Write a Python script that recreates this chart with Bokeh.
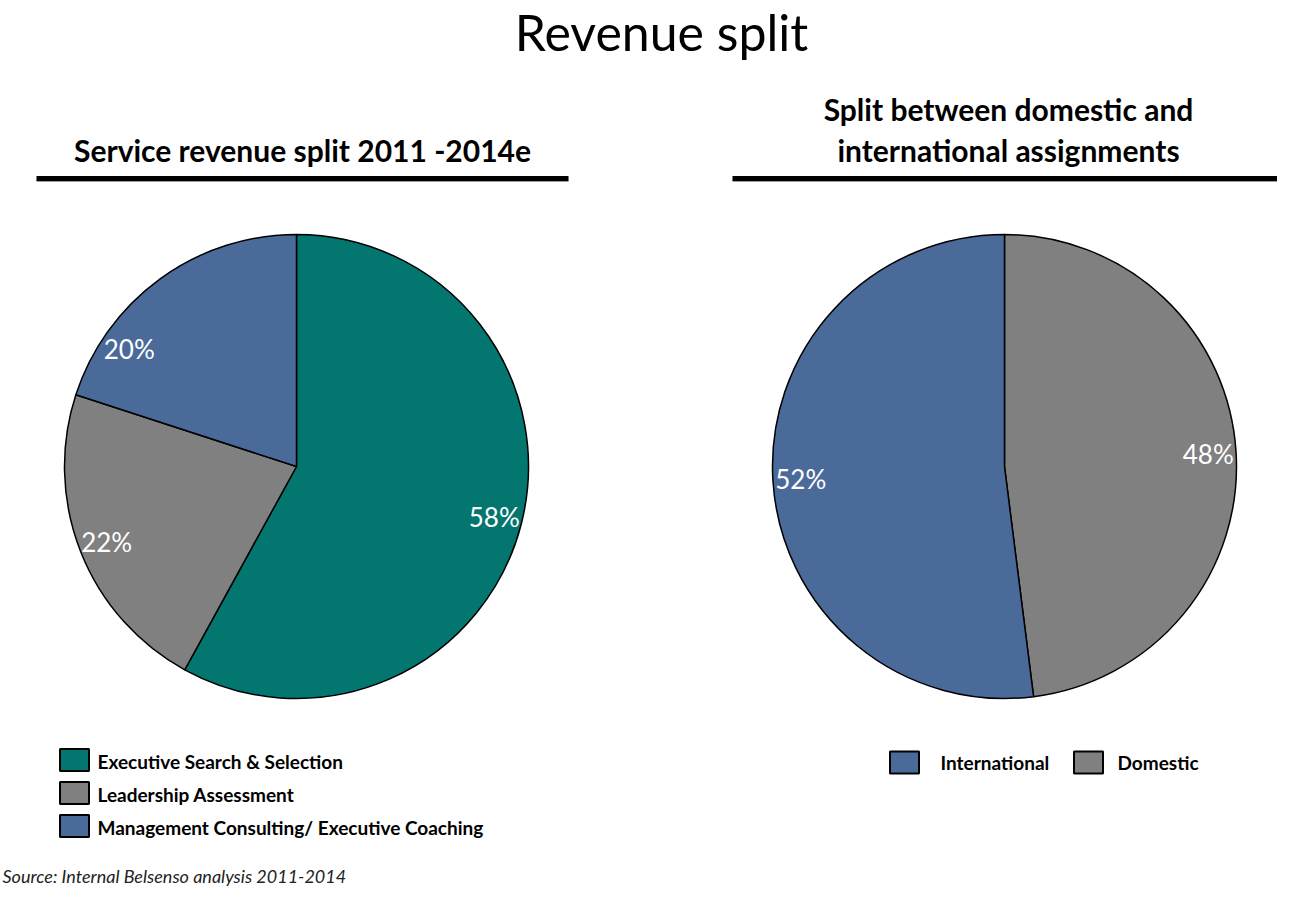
import math
from bokeh.plotting import figure
from bokeh.models import Range1d, ColumnDataSource
from bokeh.embed import file_html
from bokeh.resources import INLINE
from bokeh.core.properties import value

# ---------------- data ----------------
main_title = "Revenue split"
left_title = "Service revenue split 2011 -2014e"
right_title = ["Split between domestic and", "international assignments"]

service_categories = ["Executive Search & Selection", "Leadership Assessment",
                      "Management Consulting/  Executive Coaching"]
service_shares = [58, 22, 20]
service_colors = ["#03766F", "#808080", "#4A6A99"]

split_categories = ["Domestic", "International"]
split_shares = [48, 52]
split_colors = ["#808080", "#4A6A99"]
split_legend_order = ["International", "Domestic"]

source_note = "Source: Internal Belsenso analysis 2011-2014"

# ---------------- layout ----------------
W, H = 1277, 886
REF_H = 902
FONT = value("Lato")


def Y(ry):
    return REF_H - ry


p = figure(width=W, height=H, x_range=Range1d(0, W),
           y_range=Range1d(REF_H - H, REF_H),
           output_backend="svg", toolbar_location=None, min_border=0,
           x_axis_type=None, y_axis_type=None)
p.grid.visible = False
p.outline_line_color = None
p.background_fill_color = "white"


def draw_pie(cx, cy, r, shares, colors, nudges):
    total = float(sum(shares))
    starts, ends, lx, ly, txt = [], [], [], [], []
    cum = 0.0
    for s, nd in zip(shares, nudges):
        a0 = math.pi / 2 - 2 * math.pi * cum / total
        cum += s
        a1 = math.pi / 2 - 2 * math.pi * cum / total
        starts.append(a0)
        ends.append(a1)
        mid = (a0 + a1) / 2 + math.radians(nd)
        lx.append(cx + 0.88 * r * math.cos(mid))
        ly.append(cy + 0.88 * r * math.sin(mid))
        txt.append(f"{s}%")
    n = len(shares)
    src = ColumnDataSource(dict(x=[cx] * n, y=[cy] * n, start=starts, end=ends, color=colors))
    p.wedge(x="x", y="y", radius=r, start_angle="start", end_angle="end",
            direction="clock", fill_color="color", line_color="black",
            line_width=1.5, source=src)
    p.text(x=lx, y=ly, text=txt, text_font=FONT, text_font_size="26px",
           text_color="white", text_align="center", text_baseline="middle")


R = 232
draw_pie(296, Y(466), R, service_shares, service_colors, [0, 0, 19])
draw_pie(1004, Y(466), R, split_shares, split_colors, [0, 0])

# titles
p.text(x=[661], y=[Y(31)], text=[main_title], text_font=FONT, text_font_size="50px",
       text_color="black", text_align="center", text_baseline="middle")
p.text(x=[302], y=[Y(149)], text=[left_title], text_font=FONT, text_font_size="30px",
       text_font_style="bold", text_color="black", text_align="center", text_baseline="middle")
p.text(x=[1008, 1008], y=[Y(108), Y(149)], text=right_title, text_font=FONT,
       text_font_size="30px", text_font_style="bold", text_color="black",
       text_align="center", text_baseline="middle")

# underline bars
p.segment(x0=[36, 732], y0=[Y(180.5)] * 2, x1=[568, 1287], y1=[Y(180.5)] * 2,
          line_color="#a0a0a0", line_width=2)
p.segment(x0=[36, 732], y0=[Y(178)] * 2, x1=[568, 1287], y1=[Y(178)] * 2,
          line_color="black", line_width=5)

# left legend
rows = [759.5 + 33 * i for i in range(len(service_categories))]
p.rect(x=[74] * len(rows), y=[Y(r) for r in rows], width=29, height=22,
       fill_color=service_colors, line_color="black", line_width=2)
p.text(x=[97] * len(rows), y=[Y(r + 1.5) for r in rows], text=service_categories,
       text_font=FONT, text_font_size="19px", text_font_style="bold",
       text_color="black", text_align="left", text_baseline="middle")

# right legend
leg_colors = [split_colors[split_categories.index(c)] for c in split_legend_order]
p.rect(x=[904, 1088], y=[Y(762)] * 2, width=29, height=22,
       fill_color=leg_colors, line_color="black", line_width=2)
p.text(x=[940, 1117], y=[Y(762)] * 2, text=split_legend_order,
       text_font=FONT, text_font_size="19px", text_font_style="bold",
       text_color="black", text_align="left", text_baseline="middle")

# source note
p.text(x=[2], y=[Y(875)], text=[source_note], text_font=FONT, text_font_size="18px",
       text_font_style="italic", text_color="#222222", text_align="left",
       text_baseline="middle")

open("out.html", "w").write(file_html(p, INLINE))
